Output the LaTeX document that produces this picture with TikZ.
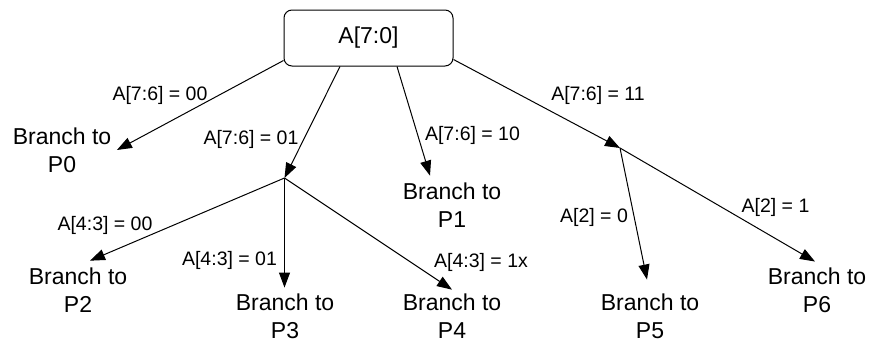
\documentclass[tikz,border=0pt]{standalone}
\usepackage{fontspec}
\setmainfont{Liberation Sans}
\usetikzlibrary{arrows.meta}
\begin{document}
\begin{tikzpicture}[x=1pt,y=-1pt,
  rootbox/.style={draw,line width=1pt,rounded corners=8pt,minimum width=169pt,minimum height=56pt,inner sep=0pt,font=\fontsize{23}{27.6}\selectfont},
  target/.style={align=center,inner sep=0pt,font=\fontsize{23}{27.6}\selectfont},
  lbl/.style={inner sep=0pt,anchor=base,font=\fontsize{19.5}{23}\selectfont},
  conn/.style={line width=1pt,-{Triangle[length=15pt,width=11pt]}}]
\useasboundingbox (0,0) rectangle (871,340);
\node[rootbox] (root) at (368.5,38) {A[7:0]};
\node[target] (P0) at (62,150) {Branch to\\P0};
\node[target] (P1) at (452,205) {Branch to\\P1};
\node[target] (P2) at (78,290) {Branch to\\P2};
\node[target] (P3) at (285,316) {Branch to\\P3};
\node[target] (P4) at (452,316) {Branch to\\P4};
\node[target] (P5) at (650,316.5) {Branch to\\P5};
\node[target] (P6) at (817,290) {Branch to\\P6};
\coordinate (J1) at (284.5,178);
\coordinate (J2) at (620,148);
\draw[conn] ([yshift=6pt]root.south west) -- ([xshift=5.5pt]P0.east);
\draw[conn] ([xshift=-28.5pt]root.south) -- (J1);
\draw[conn] ([xshift=28.5pt]root.south) -- ([xshift=-22pt,yshift=7pt]P1.north);
\draw[conn] ([yshift=7pt]root.south east) -- (J2);
\draw[conn] (J1) -- ([xshift=12pt,yshift=7pt]P2.north);
\draw[conn] (J1) -- ([xshift=-0.5pt,yshift=6pt]P3.north);
\draw[conn] (J1) -- ([yshift=4pt]P4.north);
\draw[conn] (J2) -- ([xshift=-3pt,yshift=14.5pt]P5.north);
\draw[conn] (J2) -- ([xshift=-2pt,yshift=6pt]P6.north);
\node[lbl] (l1) at (160,100) {A[7:6] = 00};
\node[lbl] (l2) at (251,144) {A[7:6] = 01};
\node[lbl] (l3) at (472.5,140) {A[7:6] = 10};
\node[lbl] (l4) at (598,100) {A[7:6] = 11};
\node[lbl] (l5) at (105,230) {A[4:3] = 00};
\node[lbl] (l6) at (229.5,265) {A[4:3] = 01};
\node[lbl] (l7) at (481,267) {A[4:3] = 1x};
\node[lbl] (l8) at (594,222) {A[2] = 0};
\node[lbl] (l9) at (775.5,212) {A[2] = 1};
\end{tikzpicture}
\end{document}
